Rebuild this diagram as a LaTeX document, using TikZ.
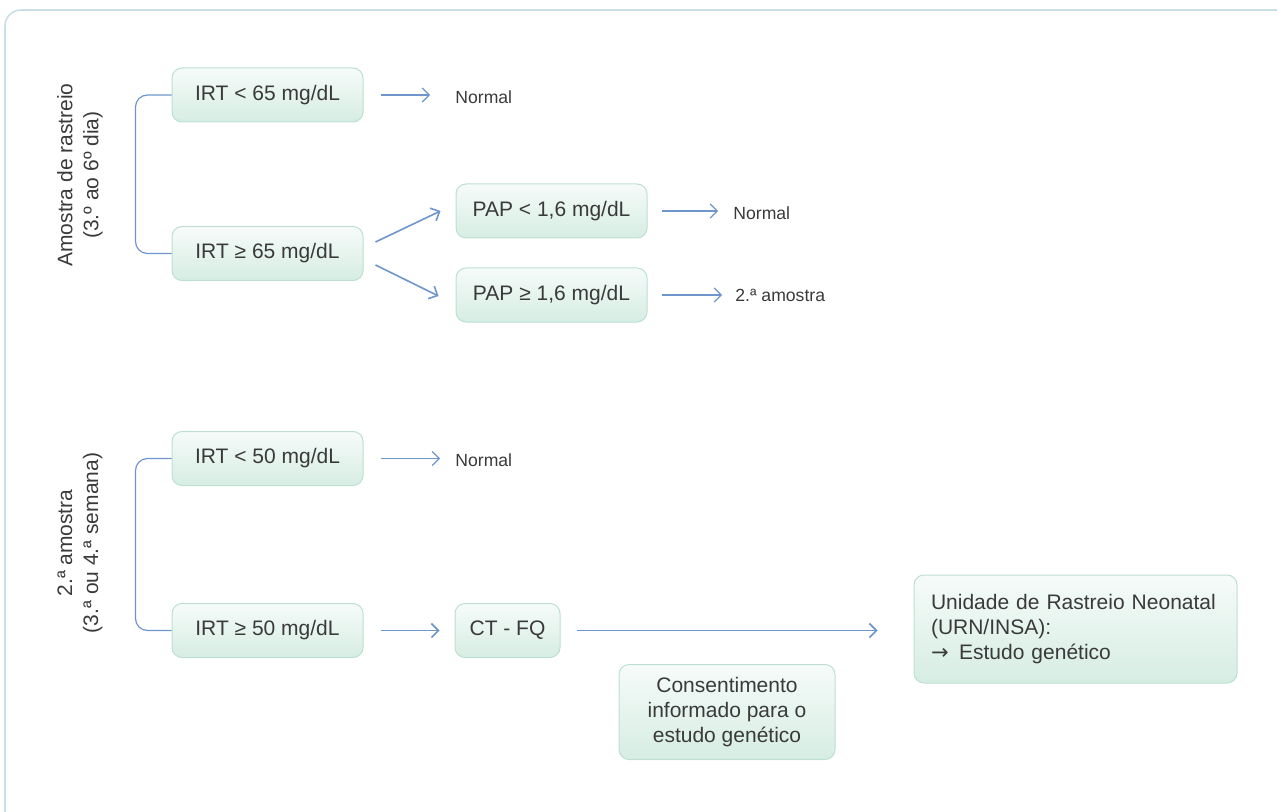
\documentclass[tikz,border=0pt]{standalone}
\usepackage{fontspec}
\setmainfont{Liberation Sans}
\newfontfamily\arrowfont{DejaVu Sans}
\usetikzlibrary{positioning,arrows.meta}
\definecolor{arrowblue}{HTML}{6E96CD}
\definecolor{boxline}{HTML}{BDDFD2}
\definecolor{boxtop}{HTML}{F6FBF9}
\definecolor{boxbottom}{HTML}{D6EDE3}
\definecolor{textgray}{HTML}{3A3A3A}
\definecolor{framecolor}{HTML}{CADFE5}

\begin{document}
\begin{tikzpicture}[
    x=0.5pt, y=-0.5pt,
    font=\fontsize{10.5}{12.5}\selectfont,
    box/.style={rectangle, draw=boxline, line width=0.5pt, top color=boxtop, bottom color=boxbottom,
        rounded corners=5pt, minimum width=95.5pt, minimum height=27pt, align=center, text=textgray},
    arrow/.style={-{Straight Barb[length=3.5pt,width=7pt]}, draw=arrowblue, line width=0.6pt},
    result/.style={font=\fontsize{8.8}{11}\selectfont, text=textgray, inner sep=0pt, anchor=west},
    bracket/.style={draw=arrowblue, line width=0.6pt, rounded corners=6pt},
    sample/.style={rotate=90, align=center, text=textgray, font=\fontsize{10.5}{13}\selectfont}
]
    \useasboundingbox (0,0) rectangle (1277,812);
    \draw[framecolor, line width=0.8pt, rounded corners=8pt] (5,830) -- (5,10) -- (1290,10);

    % primeira amostra
    \node[sample] (first) at (80,175) {Amostra de rastreio\\(3.º ao 6º dia)};
    \node[box] (irt65lo) at (267.5,95) {IRT < 65 mg/dL};
    \node[box] (irt65hi) at (267.5,253.5) {IRT ≥ 65 mg/dL};
    \node[box] (paplo) at (551.5,211) {PAP < 1,6 mg/dL};
    \node[box] (paphi) at (551.5,295) {PAP ≥ 1,6 mg/dL};
    \node[result] (norm1) at (455,97) {Normal};
    \node[result] (norm2) at (733,213) {Normal};
    \node[result] (second1) at (735,295) {2.ª amostra};

    \draw[bracket] (irt65lo.west) -- ++(-36,0) |- (irt65hi.west);
    \draw[arrow] ([xshift=8.5pt]irt65lo.east) -- ([xshift=-12.5pt]norm1.west |- irt65lo.east);
    \draw[arrow, line width=0.8pt] ([shift={(6pt,5.75pt)}]irt65hi.east) -- ([xshift=-7.5pt]paplo.west);
    \draw[arrow, line width=0.8pt] ([shift={(6pt,-5.75pt)}]irt65hi.east) -- ([xshift=-8.5pt,yshift=-0.5pt]paphi.west);
    \draw[arrow] ([xshift=7pt]paplo.east) -- ([xshift=-7.5pt]norm2.west |- paplo.east);
    \draw[arrow] ([xshift=7pt]paphi.east) -- ([xshift=-6.5pt]second1.west |- paphi.east);

    % segunda amostra
    \node[sample] (second) at (80,543) {2.ª amostra\\(3.ª ou 4.ª semana)};
    \node[box] (irt50lo) at (267.5,458.5) {IRT < 50 mg/dL};
    \node[box] (irt50hi) at (267.5,630.5) {IRT ≥ 50 mg/dL};
    \node[box, minimum width=52.5pt] (ctfq) at (507.5,630.5) {CT - FQ};
    \node[box, minimum width=108pt, minimum height=47.5pt] (consent) at (727,712)
        {Consentimento\\informado para o\\estudo genético};
    \node[box, align=left, inner xsep=8.5pt, text width=144.5pt, minimum height=54pt] (urn) at (1075.5,629)
        {Unidade de Rastreio Neonatal\\(URN/INSA):\\{\arrowfont\fontsize{10.5}{12.5}\selectfont →}\, Estudo genético};
    \node[result] (norm3) at (455,460) {Normal};

    \draw[bracket] (irt50lo.west) -- ++(-36,0) |- (irt50hi.west);
    \draw[arrow] ([xshift=8.5pt]irt50lo.east) -- ([xshift=-7.5pt]norm3.west |- irt50lo.east);
    \draw[arrow, line width=0.8pt] ([xshift=8.5pt]irt50hi.east) -- ([xshift=-7.5pt]ctfq.west);
    \draw[arrow, line width=0.8pt] ([xshift=8pt]ctfq.east) -- ([xshift=-18pt]urn.west |- ctfq.east);
\end{tikzpicture}
\end{document}
